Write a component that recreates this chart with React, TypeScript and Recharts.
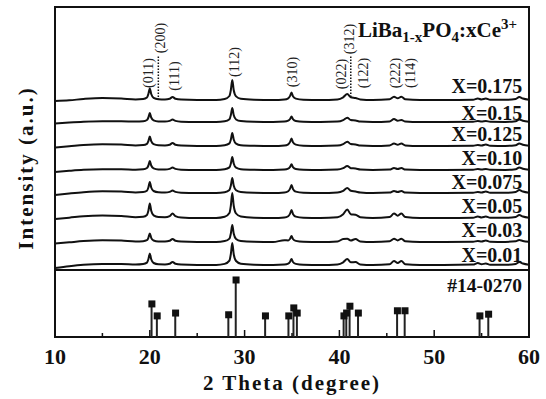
import React from 'react';
import {
  ComposedChart, Line, Bar, Scatter, XAxis, YAxis, ReferenceArea, ReferenceLine,
} from 'recharts';

// 2θ grid shared by all measured patterns
const theta = [10, 11.5, 13, 15, 17, 18.5, 19.3, 19.7, 19.85, 20.0, 20.15, 20.4, 20.9, 21.6, 22.1, 22.4, 22.7, 23.3, 25, 27, 27.9, 28.4, 28.55, 28.7, 28.85, 29.1, 29.6, 31, 33, 34.2, 34.6, 34.8, 34.95, 35.1, 35.4, 36.2, 38, 39.8, 40.4, 40.83, 41.2, 41.7, 42.2, 43.5, 45.3, 45.76, 46.15, 46.54, 46.95, 48.5, 51, 54.1, 54.6, 55.0, 55.45, 55.9, 57.5, 58.6, 58.97, 59.35, 60];

// relative intensities (a.u.) of each sample
const x0175 = [-1, -0.3, 1, 2, 1.5, 0.6, 1, 2.5, 6, 11.5, 6, 2.2, 0.8, 0.6, 1.3, 3, 1.3, 0.4, 0, 0, 1, 4, 10, 20, 10, 3.6, 1.2, 0.3, 0, 0.5, 1.7, 4.1, 7.5, 3.8, 1.4, 0.3, 0, 0.6, 2.7, 6, 2.7, 2, 0.6, 0, 0.7, 3.3, 1.7, 3.3, 0.7, 0, 0, 0.3, 1.5, 0.6, 1.5, 0.3, 0.2, 1, 3, 1.5, 0.3];
const x015 = [-1.5, -0.5, 0.3, 0.8, 0.8, 0.4, 0.8, 2, 4.5, 9, 4.5, 1.7, 0.6, 0.5, 1.1, 2.5, 1.1, 0.3, 0, 0, 0.7, 2.8, 7, 14, 7, 2.5, 0.9, 0.2, 0, 0.4, 1.3, 3, 5.5, 2.8, 1, 0.2, 0, 0.4, 1.9, 4.3, 1.9, 1.5, 0.4, 0, 0.6, 3, 1.3, 2, 0.5, 0, 0, 0.2, 1, 0.4, 1, 0.2, 0.1, 0.8, 2.5, 1.2, 0.2];
const x0125 = [-1.5, -0.3, 1, 1.8, 1.5, 0.6, 0.9, 2.1, 4.8, 9.5, 4.8, 1.8, 0.7, 0.6, 1.3, 3, 1.3, 0.4, 0, 0, 0.7, 2.6, 6.5, 13, 6.5, 2.4, 0.8, 0.2, 0, 0.5, 1.7, 4.1, 7.5, 3.8, 1.4, 0.3, 0, 0.4, 1.9, 4.3, 1.9, 1.5, 0.4, 0, 0.5, 2.5, 1.3, 2.5, 0.5, 0, 0, 0.2, 1, 0.5, 1.5, 0.3, 0.1, 0.8, 2.5, 1.2, 0.2];
const x010 = [-2, -0.8, 0.2, 0.7, 0.7, 0.3, 0.7, 2, 4.5, 9, 4.5, 1.6, 0.6, 0.5, 1.1, 2.5, 1.1, 0.3, 0, 0, 0.7, 2.6, 6.5, 13, 6.5, 2.3, 0.8, 0.2, 0, 0.4, 1.3, 3.1, 5.7, 2.9, 1, 0.2, 0, 0.4, 1.8, 4, 1.8, 1.5, 0.4, 0, 0.4, 2, 1, 2, 0.4, 0, 0, 0.2, 1, 0.4, 1, 0.2, 0.1, 0.8, 2.5, 1.2, 0.2];
const x0075 = [-2, -0.5, 0.8, 1.7, 1.5, 0.6, 0.9, 2.3, 5.5, 11, 5.5, 2, 0.7, 0.5, 1.1, 2.5, 1.1, 0.3, 0, 0, 0.8, 3, 7.5, 15, 7.5, 2.7, 0.9, 0.2, 0, 0.5, 1.8, 4.4, 8, 4, 1.4, 0.3, 0, 0.5, 2.2, 5, 2.2, 1.5, 0.5, 0, 0.4, 2, 1, 2, 0.4, 0, 0, 0.2, 1, 0.5, 1.5, 0.3, 0.2, 1, 3, 1.5, 0.3];
const x005 = [-1, 0.3, 1.8, 2.5, 2, 0.8, 1.2, 3, 7.2, 14.5, 7.2, 2.6, 0.9, 0.8, 1.9, 4.5, 1.9, 0.5, 0, 0, 1.2, 5, 12.5, 25, 12.5, 4.5, 1.5, 0.3, 0, 0.5, 1.8, 4.4, 8, 4, 1.4, 0.3, 0, 0.8, 3.8, 8.5, 3.8, 3.3, 0.8, 0, 0.9, 4.5, 2.3, 4.5, 0.9, 0, 0, 0.3, 1.5, 0.6, 1.5, 0.3, 0.2, 1, 3, 1.5, 0.3];
const x003 = [-1.5, -0.3, 0.9, 1.7, 1.4, 0.6, 0.8, 1.8, 4.2, 8.5, 4.2, 1.5, 0.6, 0.6, 1.3, 3, 1.3, 0.4, 0, 0, 0.9, 3.4, 8.5, 17, 8.5, 3, 1, 0.2, 0, 1.8, 1.6, 3.3, 6, 3, 1.1, 0.2, 0, 0.5, 3, 3.3, 1.5, 3, 0.5, 0, 0.7, 3.3, 1.6, 3.3, 0.7, 0, 0, 0.2, 1, 0.5, 1.5, 0.3, 0.1, 0.7, 2, 1, 0.2];
const x001 = [-3, -1.2, 0.2, 1, 1, 0.4, 0.9, 2.4, 5.7, 11.5, 5.7, 2, 0.7, 0.6, 1.3, 3, 1.3, 0.4, 0, 0, 1.1, 4.4, 11, 22, 11, 4, 1.3, 0.3, 0, 0.4, 1.3, 3.3, 6, 3, 1.1, 0.2, 0, 0.6, 2.7, 6, 2.7, 3, 0.6, 0, 0.8, 4, 2, 4, 0.8, 0, 0, 0.4, 2, 0.7, 1.5, 0.3, 0.2, 1, 3, 1.5, 0.3];

const seriesValues = [x0175, x015, x0125, x010, x0075, x005, x003, x001];
const seriesLabels = ['X=0.175', 'X=0.15', 'X=0.125', 'X=0.10', 'X=0.075', 'X=0.05', 'X=0.03', 'X=0.01'];

// stacking offsets of the patterns and label heights (layout)
const offsets = [170, 148, 124, 100, 77, 52, 28, 5];
const labelY = [184, 157, 136, 112, 88, 64, 40, 15];
const labelTheta = 59.3;

// Miller indices annotations
const hklText = ['(011)', '(200)', '(111)', '(112)', '(310)', '(022)', '(312)', '(122)', '(222)', '(114)'];
const hklTheta = [19.85, 21.1, 22.6, 28.9, 35.0, 40.2, 41.1, 42.5, 45.9, 47.5];
const hklY = [197, 232, 194, 208, 198, 196, 231, 197, 197, 197];
const dottedTheta = [20.9, 41.2];
const dottedFrom = [170, 173];
const dottedTo = [215, 215];

// JCPDS #14-0270 reference pattern
const stickTheta = [20.22, 20.78, 22.72, 28.32, 29.1, 32.2, 34.66, 35.19, 35.55, 40.48, 40.76, 41.11, 42.0, 46.12, 46.92, 54.82, 55.74];
const stickI = [58, 37, 42, 39, 100, 37, 37, 51, 42, 37, 42, 54, 42, 46, 46, 37, 40];

const xTicks = [10, 15, 20, 25, 30, 35, 40, 45, 50, 55, 60];

const FONT = '"Liberation Serif", "Times New Roman", serif';
const W = 546;
const PLOT_LEFT = 55;
const PLOT_RIGHT = 17;
const TOP_MAX = 263;
const BOTTOM_MAX = 117.5;

const rows = theta.map((t, j) => {
  const r: Record<string, number> = { t };
  seriesValues.forEach((s, i) => {
    r['c' + i] = offsets[i] + s[j];
  });
  return r;
});

const labelRows = seriesLabels.map((l, i) => ({ t: labelTheta, v: labelY[i], label: l }));
const hklRows = hklText.map((l, i) => ({ t: hklTheta[i], v: hklY[i], label: l }));
const stickRows = stickTheta.map((t, i) => ({ t, I: stickI[i] }));

const SampleLabel = (props: any) => {
  const { cx, cy, payload } = props;
  return (
    <text x={cx} y={cy + 7} textAnchor="end" fontFamily={FONT} fontWeight="bold" fontSize={20} fill="#111">
      {payload.label}
    </text>
  );
};

const HklLabel = (props: any) => {
  const { cx, cy, payload } = props;
  return (
    <text
      x={cx}
      y={cy}
      transform={`rotate(-90 ${cx} ${cy})`}
      textAnchor="middle"
      dominantBaseline="central"
      fontFamily={FONT}
      fontSize={14}
      fill="#222"
    >
      {payload.label}
    </text>
  );
};

const SquareMarker = (props: any) => {
  const { cx, cy } = props;
  return <rect x={cx - 3.5} y={cy - 3.5} width={7} height={7} fill="#111" />;
};

const XTick = (props: any) => {
  const { x, y, payload } = props;
  const major = payload.value % 10 === 0;
  return (
    <g>
      <line x1={x} x2={x} y1={y} y2={y - (major ? 7 : 4)} stroke="#111" strokeWidth={1.5} />
      {major && (
        <text x={x} y={y + 27} textAnchor="middle" fontFamily={FONT} fontWeight="bold" fontSize={22} fill="#111">
          {payload.value}
        </text>
      )}
    </g>
  );
};

export default function App() {
  return (
    <div style={{ position: 'absolute', left: 0, top: 0, width: W, height: 399, background: '#fff' }}>
      <div style={{ position: 'absolute', left: 0, top: 0 }}>
        <ComposedChart width={W} height={272} data={rows} margin={{ top: 7, right: PLOT_RIGHT, bottom: 2, left: PLOT_LEFT }}>
          <XAxis dataKey="t" type="number" domain={[10, 60]} allowDataOverflow hide />
          <YAxis type="number" domain={[0, TOP_MAX]} allowDataOverflow hide />
          {seriesValues.map((_, i) => (
            <Line
              key={i}
              dataKey={'c' + i}
              type="monotone"
              stroke="#111"
              strokeWidth={2}
              dot={false}
              isAnimationActive={false}
            />
          ))}
          {dottedTheta.map((t, i) => (
            <ReferenceLine
              key={'d' + i}
              segment={[{ x: t, y: dottedFrom[i] }, { x: t, y: dottedTo[i] }]}
              stroke="#111"
              strokeWidth={1.5}
              strokeDasharray="1.5 1.5"
            />
          ))}
          <Scatter data={labelRows} dataKey="v" shape={SampleLabel} isAnimationActive={false} />
          <Scatter data={hklRows} dataKey="v" shape={HklLabel} isAnimationActive={false} />
          <ReferenceArea x1={10} x2={60} y1={0} y2={TOP_MAX} fill="none" stroke="#111" strokeWidth={2} ifOverflow="visible" />
        </ComposedChart>
      </div>
      <div style={{ position: 'absolute', left: 0, top: 0 }}>
        <ComposedChart width={W} height={399} data={stickRows} margin={{ top: 270, right: PLOT_RIGHT, bottom: 0, left: PLOT_LEFT }}>
          <XAxis
            dataKey="t"
            type="number"
            domain={[10, 60]}
            ticks={xTicks}
            interval={0}
            allowDataOverflow
            axisLine={false}
            tickLine={false}
            tickSize={0}
            tickMargin={0}
            height={62}
            tick={XTick}
            label={{ value: '2 Theta (degree)', position: 'insideBottom', offset: 9, fontFamily: FONT, fontWeight: 'bold', fontSize: 21, letterSpacing: 2, fill: '#111' }}
          />
          <YAxis type="number" domain={[0, BOTTOM_MAX]} allowDataOverflow hide />
          <Bar dataKey="I" barSize={2} fill="#222" isAnimationActive={false} />
          <Scatter dataKey="I" shape={SquareMarker} isAnimationActive={false} />
          <ReferenceArea x1={10} x2={60} y1={0} y2={BOTTOM_MAX} fill="none" stroke="#111" strokeWidth={2} ifOverflow="visible" />
        </ComposedChart>
      </div>
      <svg width={W} height={399} style={{ position: 'absolute', left: 0, top: 0, pointerEvents: 'none' }}>
        <text x={358} y={37} fontFamily={FONT} fontWeight="bold" fontSize={21} fill="#111">
          LiBa<tspan dy={5} fontSize={15}>1-x</tspan><tspan dy={-5}>PO</tspan><tspan dy={5} fontSize={15}>4</tspan><tspan dy={-5}>:xCe</tspan><tspan dy={-8} fontSize={15}>3+</tspan>
        </text>
        <text x={522} y={292} textAnchor="end" fontFamily={FONT} fontWeight="bold" fontSize={19.5} fill="#111">
          #14-0270
        </text>
        <text
          transform="translate(33 168) rotate(-90)"
          textAnchor="middle"
          fontFamily={FONT}
          fontWeight="bold"
          fontSize={21}
          letterSpacing={2}
          fill="#111"
        >
          Intensity (a.u.)
        </text>
      </svg>
    </div>
  );
}
